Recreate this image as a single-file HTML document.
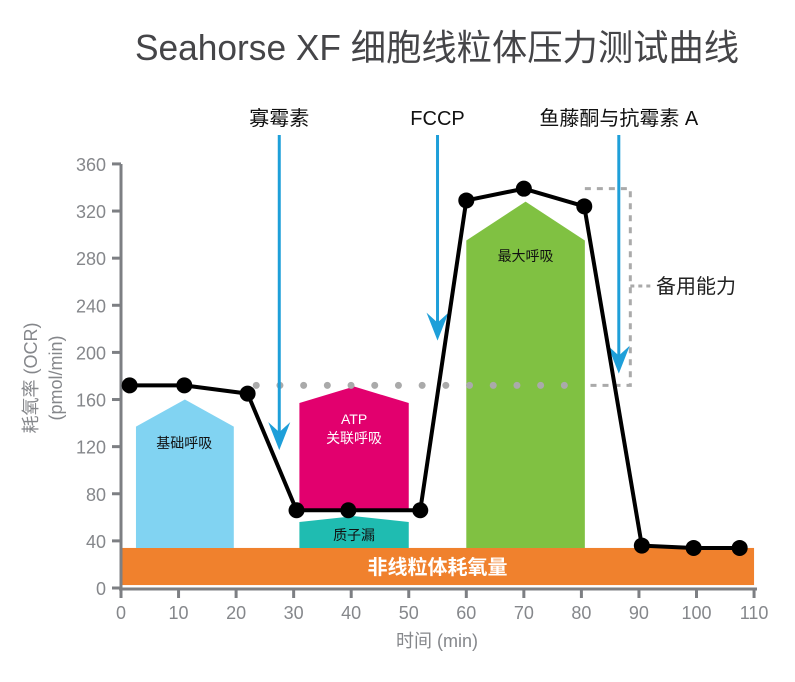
<!DOCTYPE html>
<html><head><meta charset="utf-8"><style>
body{margin:0;background:#fff}
svg text{font-family:"Liberation Sans","Noto Sans CJK SC",sans-serif}
</style></head><body>
<svg id="c" width="795" height="677" xmlns="http://www.w3.org/2000/svg">
<text x="437" y="60" text-anchor="middle" font-size="36" fill="#454548" textLength="604" lengthAdjust="spacingAndGlyphs">Seahorse XF 细胞线粒体压力测试曲线</text>
<g id="g"></g>
</svg>
<script>
const times=[1.5,11,22,30.5,39.5,52,60,70,80.5,90.5,99.5,107.5];
const ocr=[172,172,165,66,66,66,329,339,324,36,34,34];
const xTicks=[0,10,20,30,40,50,60,70,80,90,100,110];
const yTicks=[0,40,80,120,160,200,240,280,320,360];
const injections=[{t:27.5,label:"寡霉素",end:117},{t:55,label:"FCCP",end:210},{t:86.5,label:"鱼藤酮与抗霉素 A",end:182}];
const X=v=>121+v*5.755, Y=v=>588-v*1.178;
const g=document.getElementById('g'),NS="http://www.w3.org/2000/svg";
function el(t,a,p){const e=document.createElementNS(NS,t);for(const k in a)e.setAttribute(k,a[k]);(p||g).appendChild(e);return e;}
function txt(s,a){const e=el('text',a);e.textContent=s;return e;}
function shape(x0,x1,yb,ys,yp,fill){return el('polygon',{points:`${X(x0)},${Y(yb)} ${X(x0)},${Y(ys)} ${X((x0+x1)/2)},${Y(yp)} ${X(x1)},${Y(ys)} ${X(x1)},${Y(yb)}`,fill:fill});}
let e=el('rect',{x:X(0),y:Y(34),width:X(110)-X(0),height:Y(2.5)-Y(34),fill:'#f0812d'});

e=txt('非线粒体耗氧量',{x:X(55),y:574,'text-anchor':'middle','font-size':20,'font-weight':'bold',fill:'#fff'});

e=shape(2.6,19.6,34,137,160,'#81d3f2');
e=txt('基础呼吸',{x:X(11),y:448,'text-anchor':'middle','font-size':14,fill:'#111'});
e=shape(31,50,66,157,171,'#e2006e');
e=txt('ATP',{x:X(40.5),y:424,'text-anchor':'middle','font-size':14,fill:'#fff'});
e=txt('关联呼吸',{x:X(40.5),y:443,'text-anchor':'middle','font-size':14,fill:'#fff'});
e=shape(31,50,34,56,61,'#1fbcb1');
e=txt('质子漏',{x:X(40.5),y:540,'text-anchor':'middle','font-size':14,fill:'#111'});
e=shape(60,80.6,34,295,328,'#80c142');
e=txt('最大呼吸',{x:X(70.3),y:261,'text-anchor':'middle','font-size':14,fill:'#111'});
e=el('line',{x1:X(23.5),y1:Y(172),x2:X(80),y2:Y(172),stroke:'#aaa','stroke-width':7,'stroke-linecap':'round','stroke-dasharray':'0 23.7'});

e=el('polyline',{points:`${X(80.6)},${Y(339)} ${X(88.5)},${Y(339)} ${X(88.5)},${Y(172)} ${X(80.6)},${Y(172)}`,fill:'none',stroke:'#aaa','stroke-width':3,'stroke-dasharray':'6 6'});

e=el('line',{x1:X(88.5),y1:286,x2:651,y2:286,stroke:'#aaa','stroke-width':3,'stroke-dasharray':'4 4'});

e=txt('备用能力',{x:656,y:293,'font-size':20,fill:'#222'});
e=el('line',{x1:121,y1:164,x2:121,y2:591,stroke:'#7d7f83','stroke-width':3});
e=el('line',{x1:119,y1:589,x2:757,y2:589,stroke:'#7d7f83','stroke-width':3});
yTicks.forEach(v=>{let t=el('line',{x1:112,y1:Y(v),x2:121,y2:Y(v),stroke:'#7d7f83','stroke-width':3});

t=txt(String(v),{x:106,y:Y(v)+7,'text-anchor':'end','font-size':18,fill:'#85878b'});
});
xTicks.forEach(v=>{let t=el('line',{x1:X(v),y1:589,x2:X(v),y2:598,stroke:'#7d7f83','stroke-width':3});

t=txt(String(v),{x:X(v),y:619,'text-anchor':'middle','font-size':18,fill:'#85878b'});
});
e=txt('时间 (min)',{x:437,y:647,'text-anchor':'middle','font-size':18,fill:'#85878b'});
e=txt('耗氧率 (OCR)',{x:0,y:0,transform:'translate(37,378) rotate(-90)','text-anchor':'middle','font-size':18,fill:'#85878b'});
e=txt('(pmol/min)',{x:0,y:0,transform:'translate(62,378) rotate(-90)','text-anchor':'middle','font-size':18,fill:'#85878b'});
injections.forEach(d=>{const x=X(d.t),yb=Y(d.end);
let a=el('line',{x1:x,y1:135,x2:x,y2:yb-10,stroke:'#1e9fd9','stroke-width':3});
a=el('polygon',{points:`${x-11},${yb-28} ${x},${yb-18} ${x+11},${yb-28} ${x},${yb}`,fill:'#1e9fd9'});
a=txt(d.label,{x:x,y:125,'text-anchor':'middle','font-size':20,fill:'#111'});});
e=el('polyline',{points:times.map((t,i)=>X(t)+','+Y(ocr[i])).join(' '),fill:'none',stroke:'#000','stroke-width':4,'stroke-linejoin':'round'});

times.forEach((t,i)=>{const p=el('circle',{cx:X(t),cy:Y(ocr[i]),r:8,fill:'#000'});
});
</script>
</body></html>
